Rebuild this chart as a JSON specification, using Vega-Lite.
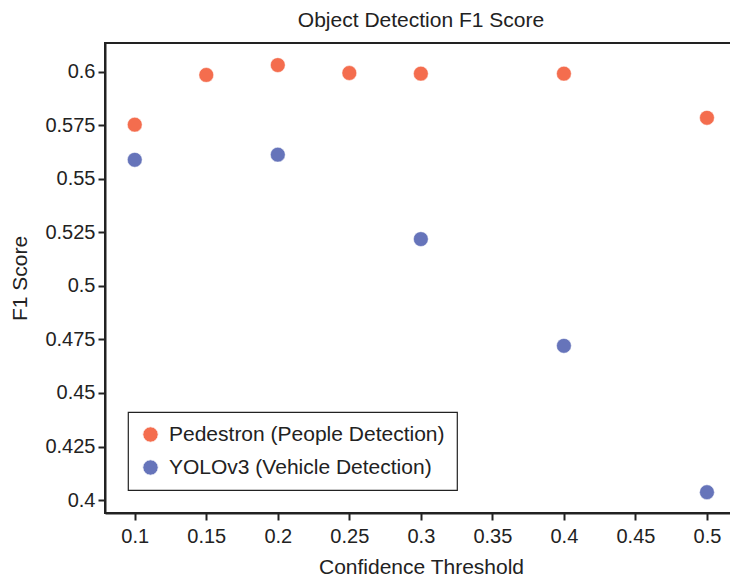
{
  "$schema": "https://vega.github.io/schema/vega-lite/v6.json",
  "width": 632,
  "height": 470,
  "padding": {"left": 9, "top": 10, "right": 0, "bottom": 0},
  "background": "white",
  "title": {"text": "Object Detection F1 Score", "font": "Liberation Sans", "fontSize": 21, "fontWeight": "normal", "color": "#222", "offset": 12},
  "data": {"values": [
    {"threshold": 0.1, "f1": 0.5752, "model": "Pedestron (People Detection)"},
    {"threshold": 0.15, "f1": 0.5984, "model": "Pedestron (People Detection)"},
    {"threshold": 0.2, "f1": 0.603, "model": "Pedestron (People Detection)"},
    {"threshold": 0.25, "f1": 0.5993, "model": "Pedestron (People Detection)"},
    {"threshold": 0.3, "f1": 0.599, "model": "Pedestron (People Detection)"},
    {"threshold": 0.4, "f1": 0.599, "model": "Pedestron (People Detection)"},
    {"threshold": 0.5, "f1": 0.5784, "model": "Pedestron (People Detection)"},
    {"threshold": 0.1, "f1": 0.5588, "model": "YOLOv3 (Vehicle Detection)"},
    {"threshold": 0.2, "f1": 0.5612, "model": "YOLOv3 (Vehicle Detection)"},
    {"threshold": 0.3, "f1": 0.5218, "model": "YOLOv3 (Vehicle Detection)"},
    {"threshold": 0.4, "f1": 0.472, "model": "YOLOv3 (Vehicle Detection)"},
    {"threshold": 0.5, "f1": 0.4037, "model": "YOLOv3 (Vehicle Detection)"}
  ]},
  "mark": {"type": "point", "filled": true, "shape": "circle", "size": 220, "opacity": 1, "stroke": "white", "strokeWidth": 1, "strokeOpacity": 0.5},
  "encoding": {
    "x": {"field": "threshold", "type": "quantitative", "title": "Confidence Threshold",
      "scale": {"domain": [0.0792, 0.521], "nice": false, "zero": false},
      "axis": {"values": [0.1, 0.15, 0.2, 0.25, 0.3, 0.35, 0.4, 0.45, 0.5], "format": ".3~f"}},
    "y": {"field": "f1", "type": "quantitative", "title": "F1 Score",
      "scale": {"domain": [0.394, 0.6133], "nice": false, "zero": false},
      "axis": {"values": [0.4, 0.425, 0.45, 0.475, 0.5, 0.525, 0.55, 0.575, 0.6], "format": ".3~f"}},
    "color": {"field": "model", "type": "nominal", "title": null,
      "scale": {"domain": ["Pedestron (People Detection)", "YOLOv3 (Vehicle Detection)"], "range": ["#F46D4E", "#6674BA"]},
      "legend": {"orient": "bottom-left", "offset": 23, "strokeColor": "#222", "fillColor": "white", "padding": 12, "labelFontSize": 21, "labelFont": "Liberation Sans", "labelColor": "#222", "labelLimit": 400, "symbolSize": 240, "symbolType": "circle", "rowPadding": 11, "labelOffset": 8, "symbolStrokeColor": "white", "symbolStrokeWidth": 1}
    }
  },
  "config": {
    "font": "Liberation Sans",
    "view": {"stroke": "#222", "strokeWidth": 2},
    "legend": {"strokeWidth": 1.2},
    "axis": {"grid": false, "domainColor": "#222", "domainWidth": 2, "tickColor": "#222", "tickWidth": 2, "tickSize": 7,
      "labelFont": "Liberation Sans", "labelFontSize": 20, "labelColor": "#222", "labelPadding": 3,
      "titleFont": "Liberation Sans", "titleFontSize": 21, "titleFontWeight": "normal", "titleColor": "#222"},
    "axisX": {"titlePadding": 10, "labelPadding": 6},
    "axisY": {"titlePadding": 14}
  }
}
